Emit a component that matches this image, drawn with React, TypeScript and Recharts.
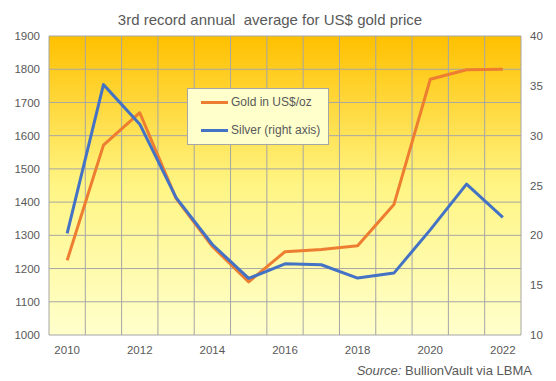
import React from 'react';
import { LineChart, Line, XAxis, YAxis, CartesianGrid, Legend } from 'recharts';

const years = [2010, 2011, 2012, 2013, 2014, 2015, 2016, 2017, 2018, 2019, 2020, 2021, 2022];
const goldUsd = [1224.5, 1571.5, 1669.0, 1411.2, 1266.4, 1160.1, 1250.8, 1257.2, 1268.5, 1392.6, 1769.6, 1798.6, 1800.0];
const silverUsd = [20.19, 35.12, 31.15, 23.79, 19.08, 15.68, 17.14, 17.05, 15.71, 16.21, 20.55, 25.14, 21.8];
const leftTicks = [1000, 1100, 1200, 1300, 1400, 1500, 1600, 1700, 1800, 1900];
const rightTicks = [10, 15, 20, 25, 30, 35, 40];
const xLabelTicks = [2010, 2012, 2014, 2016, 2018, 2020, 2022];
const titleText = '3rd record annual  average for US$ gold price';
const goldName = 'Gold in US$/oz';
const silverName = 'Silver (right axis)';

const data = years.map((year, i) => ({ year, gold: goldUsd[i], silver: silverUsd[i] }));
const gridTicks = [...years.map((y) => y - 0.5), years[years.length - 1] + 0.5];
const xDomain = [gridTicks[0], gridTicks[gridTicks.length - 1]];

const FONT = '"Liberation Sans", Arial, sans-serif';
const TEXT = '#595959';
const GRID = '#A6A6A6';
const GOLD = '#ED7D31';
const SILVER = '#4472C4';

const LegendBox = () => (
  <div
    style={{
      width: 142,
      height: 57,
      boxSizing: 'border-box',
      background: '#FFFFCC',
      border: `1px solid ${GRID}`,
      fontFamily: FONT,
      fontSize: 12,
      color: TEXT,
      position: 'relative',
    }}
  >
    {[
      { name: goldName, color: GOLD, top: 6 },
      { name: silverName, color: SILVER, top: 34 },
    ].map((it) => (
      <div
        key={it.name}
        style={{ position: 'absolute', left: 13, top: it.top, height: 14, lineHeight: '14px', display: 'flex', alignItems: 'center', whiteSpace: 'nowrap' }}
      >
        <span style={{ display: 'inline-block', width: 27, height: 3, background: it.color, marginRight: 3 }} />
        {it.name}
      </div>
    ))}
  </div>
);

export default function App() {
  return (
    <div style={{ position: 'absolute', left: 0, top: 0, width: 556, height: 381, background: '#fff' }}>
      <LineChart width={556} height={381} data={data} margin={{ top: 36, right: 5, bottom: 26, left: 5 }}>
        <defs>
          <linearGradient id="bgGrad" x1="0" y1="0" x2="0" y2="1">
            <stop offset="0%" stopColor="#FFC000" />
            <stop offset="50%" stopColor="#FFF584" />
            <stop offset="100%" stopColor="#FFFFCC" />
          </linearGradient>
        </defs>
        <CartesianGrid
          xAxisId="grid"
          yAxisId="left"
          stroke={GRID}
          strokeWidth={1}
          fill="url(#bgGrad)"
          fillOpacity={1}
        />
        <XAxis
          xAxisId="grid"
          orientation="top"
          dataKey="year"
          type="number"
          domain={xDomain}
          ticks={gridTicks}
          interval={0}
          hide
          allowDataOverflow
        />
        <XAxis
          xAxisId="main"
          dataKey="year"
          type="number"
          domain={xDomain}
          ticks={xLabelTicks}
          interval={0}
          axisLine={false}
          tickLine={false}
          tickSize={0}
          tickMargin={11}
          height={20}
          tick={{ fill: TEXT, fontSize: 11.5, fontFamily: FONT }}
          allowDataOverflow
        />
        <YAxis
          yAxisId="left"
          orientation="left"
          domain={[1000, 1900]}
          ticks={leftTicks}
          interval={0}
          width={44}
          axisLine={false}
          tickLine={false}
          tickSize={0}
          tickMargin={9}
          tick={{ fill: TEXT, fontSize: 11.5, fontFamily: FONT }}
          allowDataOverflow
        />
        <YAxis
          yAxisId="right"
          orientation="right"
          domain={[10, 40]}
          ticks={rightTicks}
          interval={0}
          width={30}
          axisLine={false}
          tickLine={false}
          tickSize={0}
          tickMargin={9}
          tick={{ fill: TEXT, fontSize: 11.5, fontFamily: FONT, textAnchor: 'start' }}
          allowDataOverflow
        />
        <Legend
          layout="vertical"
          align="center"
          verticalAlign="middle"
          content={<LegendBox />}
          wrapperStyle={{ left: 187, top: 88, width: 142, height: 57 }}
        />
        <Line
          xAxisId="main"
          yAxisId="left"
          dataKey="gold"
          name={goldName}
          stroke={GOLD}
          strokeWidth={3}
          dot={false}
          isAnimationActive={false}
          strokeLinejoin="round"
        />
        <Line
          xAxisId="main"
          yAxisId="right"
          dataKey="silver"
          name={silverName}
          stroke={SILVER}
          strokeWidth={3}
          dot={false}
          isAnimationActive={false}
          strokeLinejoin="round"
        />
      </LineChart>
      <svg width={556} height={381} style={{ position: 'absolute', left: 0, top: 0, pointerEvents: 'none' }}>
        <text x={270} y={25} textAnchor="middle" fontFamily={FONT} fontSize={15} fill={TEXT} style={{ whiteSpace: 'pre' }}>
          {titleText}
        </text>
        <text x={532} y={375} textAnchor="end" fontFamily={FONT} fontSize={13} fill={TEXT} style={{ whiteSpace: 'pre' }}>
          <tspan fontStyle="italic">Source:</tspan>
          <tspan> BullionVault via LBMA</tspan>
        </text>
      </svg>
    </div>
  );
}
